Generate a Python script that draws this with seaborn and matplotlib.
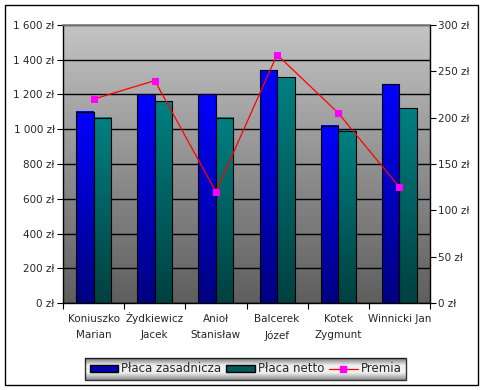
import numpy as np
import pandas as pd
import matplotlib
matplotlib.use("Agg")
import matplotlib.pyplot as plt
import matplotlib.patches as mpatches
import matplotlib.transforms as mtransforms
from matplotlib.lines import Line2D
from matplotlib.colors import LinearSegmentedColormap
from matplotlib.ticker import FuncFormatter, FixedLocator
import seaborn as sns

# Dane
pracownicy = ["Koniuszko\nMarian", "Żydkiewicz\nJacek", "Anioł\nStanisław",
              "Balcerek\nJózef", "Kotek\nZygmunt", "Winnicki Jan"]
placa_zasadnicza = [1100, 1200, 1200, 1340, 1020, 1260]
placa_netto = [1065, 1160, 1065, 1300, 990, 1120]
premia = [220, 240, 120, 268, 205, 125]

sns.set_theme(style="white")
plt.rcParams["font.family"] = ["DejaVu Sans"]

df = pd.DataFrame({
    "pracownik": pracownicy * 2,
    "kwota": placa_zasadnicza + placa_netto,
    "seria": ["Płaca zasadnicza"] * 6 + ["Płaca netto"] * 6,
})

fig = plt.figure(figsize=(4.83, 3.9), dpi=100)
fig.patch.set_facecolor("white")
ax = fig.add_axes([63 / 483, 1 - 303 / 390, 367 / 483, 278 / 390])

palette = {"Płaca zasadnicza": "#0000ff", "Płaca netto": "#008080"}
sns.barplot(data=df, x="pracownik", y="kwota", hue="seria", palette=palette,
            width=0.57, gap=0, saturation=1, edgecolor="black", linewidth=0.8,
            ax=ax, legend=False, zorder=3)

ax.set_xlim(-0.5, 5.5)
ax.set_ylim(0, 1600)

# tło z gradientem
bg = LinearSegmentedColormap.from_list("bg", ["#5e5e5e", "#c4c4c4"])
grad = np.linspace(0, 1, 256).reshape(-1, 1)
ax.imshow(grad, cmap=bg, aspect="auto", origin="lower",
          extent=(-0.5, 5.5, 0, 1600), zorder=0)

# gradient w słupkach
cmaps = [LinearSegmentedColormap.from_list("b", ["#000080", "#0000ff"]),
         LinearSegmentedColormap.from_list("t", ["#004040", "#008080"])]
for i, bar in enumerate(ax.patches):
    x0, y0 = bar.get_x(), bar.get_y()
    w, h = bar.get_width(), bar.get_height()
    cm = cmaps[0] if i < 6 else cmaps[1]
    ax.imshow(grad, cmap=cm, aspect="auto", origin="lower",
              extent=(x0, x0 + w, y0, y0 + h), zorder=2)
    bar.set_facecolor("none")
ax.set_xlim(-0.5, 5.5)
ax.set_ylim(0, 1600)

ax.yaxis.set_major_locator(FixedLocator(np.arange(0, 1601, 200)))
ax.yaxis.set_major_formatter(FuncFormatter(
    lambda v, p: f"{int(v):,} zł".replace(",", " ")))
ax.grid(axis="y", color="black", linewidth=1, zorder=1)
ax.set_axisbelow(True)
ax.set_xlabel("")
ax.set_ylabel("")

ax.set_xticks(range(6))
ax.set_xticklabels(pracownicy, fontsize=7.5, linespacing=1.7)
ax.set_xticks(np.arange(-0.5, 6, 1), minor=True)
ax.tick_params(axis="x", which="major", length=0, pad=8)
ax.tick_params(axis="x", which="minor", length=4, width=0.8, color="black",
               direction="out", bottom=True)
ax.tick_params(axis="y", length=4, width=0.8, color="black", direction="out",
               left=True, labelsize=7.5, pad=2)
# ta sama linia bazowa dla wszystkich etykiet (Ż podnosi ramkę tekstu)
for lbl in ax.get_xticklabels():
    if lbl.get_text().startswith("Ż"):
        lbl.set_transform(lbl.get_transform() + mtransforms.ScaledTranslation(
            0, 2 / 100, fig.dpi_scale_trans))

for s in ["left", "bottom", "right"]:
    ax.spines[s].set_color("black")
    ax.spines[s].set_linewidth(1)
ax.spines["top"].set_color("#808080")

# oś pomocnicza - premia
ax2 = ax.twinx()
sns.lineplot(x=list(range(6)), y=premia, ax=ax2, color="red", linewidth=0.9,
             marker="s", markersize=5, markerfacecolor="#ff00ff",
             markeredgecolor="#ff00ff", zorder=5)
ax2.set_ylim(0, 300)
ax2.set_yticks(np.arange(0, 301, 50))
ax2.yaxis.set_major_formatter(FuncFormatter(lambda v, p: f"{int(v)} zł"))
ax2.tick_params(axis="y", length=4, width=0.8, color="black", direction="out",
                right=True, labelsize=7.5, pad=2)
for s in ax2.spines.values():
    s.set_visible(False)
ax2.grid(False)

# legenda
handles = [
    mpatches.Patch(facecolor="#0000b0", edgecolor="black", label="Płaca zasadnicza"),
    mpatches.Patch(facecolor="#005a5a", edgecolor="black", label="Płaca netto"),
    Line2D([0], [0], color="red", linewidth=0.9, marker="s", markersize=5,
           markerfacecolor="#ff00ff", markeredgecolor="#ff00ff", label="Premia"),
]
leg = fig.legend(handles=handles, loc="center", bbox_to_anchor=(0.509, 0.054),
                 ncol=3, fontsize=8.5, frameon=True, fancybox=False,
                 edgecolor="black", facecolor="none", handlelength=2.4,
                 handleheight=0.5, handletextpad=0.3, columnspacing=0.4,
                 borderpad=0.35)
leg.get_frame().set_linewidth(1)
leg.set_zorder(10)

# tło legendy z gradientem
fig.canvas.draw()
bb = leg.get_window_extent().transformed(fig.transFigure.inverted())
lax = fig.add_axes([bb.x0, bb.y0, bb.width, bb.height], zorder=-1)
lcm = LinearSegmentedColormap.from_list("lg", ["#8a8a8a", "#f0f0f0", "#f0f0f0", "#7a7a7a"])
lax.imshow(grad, cmap=lcm, aspect="auto", origin="lower", extent=(0, 1, 0, 1))
lax.set_axis_off()

# ramka wykresu
fig.patches.append(mpatches.Rectangle((5 / 483, 5 / 390), 473 / 483, 380 / 390,
                                      transform=fig.transFigure, fill=False,
                                      edgecolor="black", linewidth=1))

fig.savefig("out.png", dpi=100)
